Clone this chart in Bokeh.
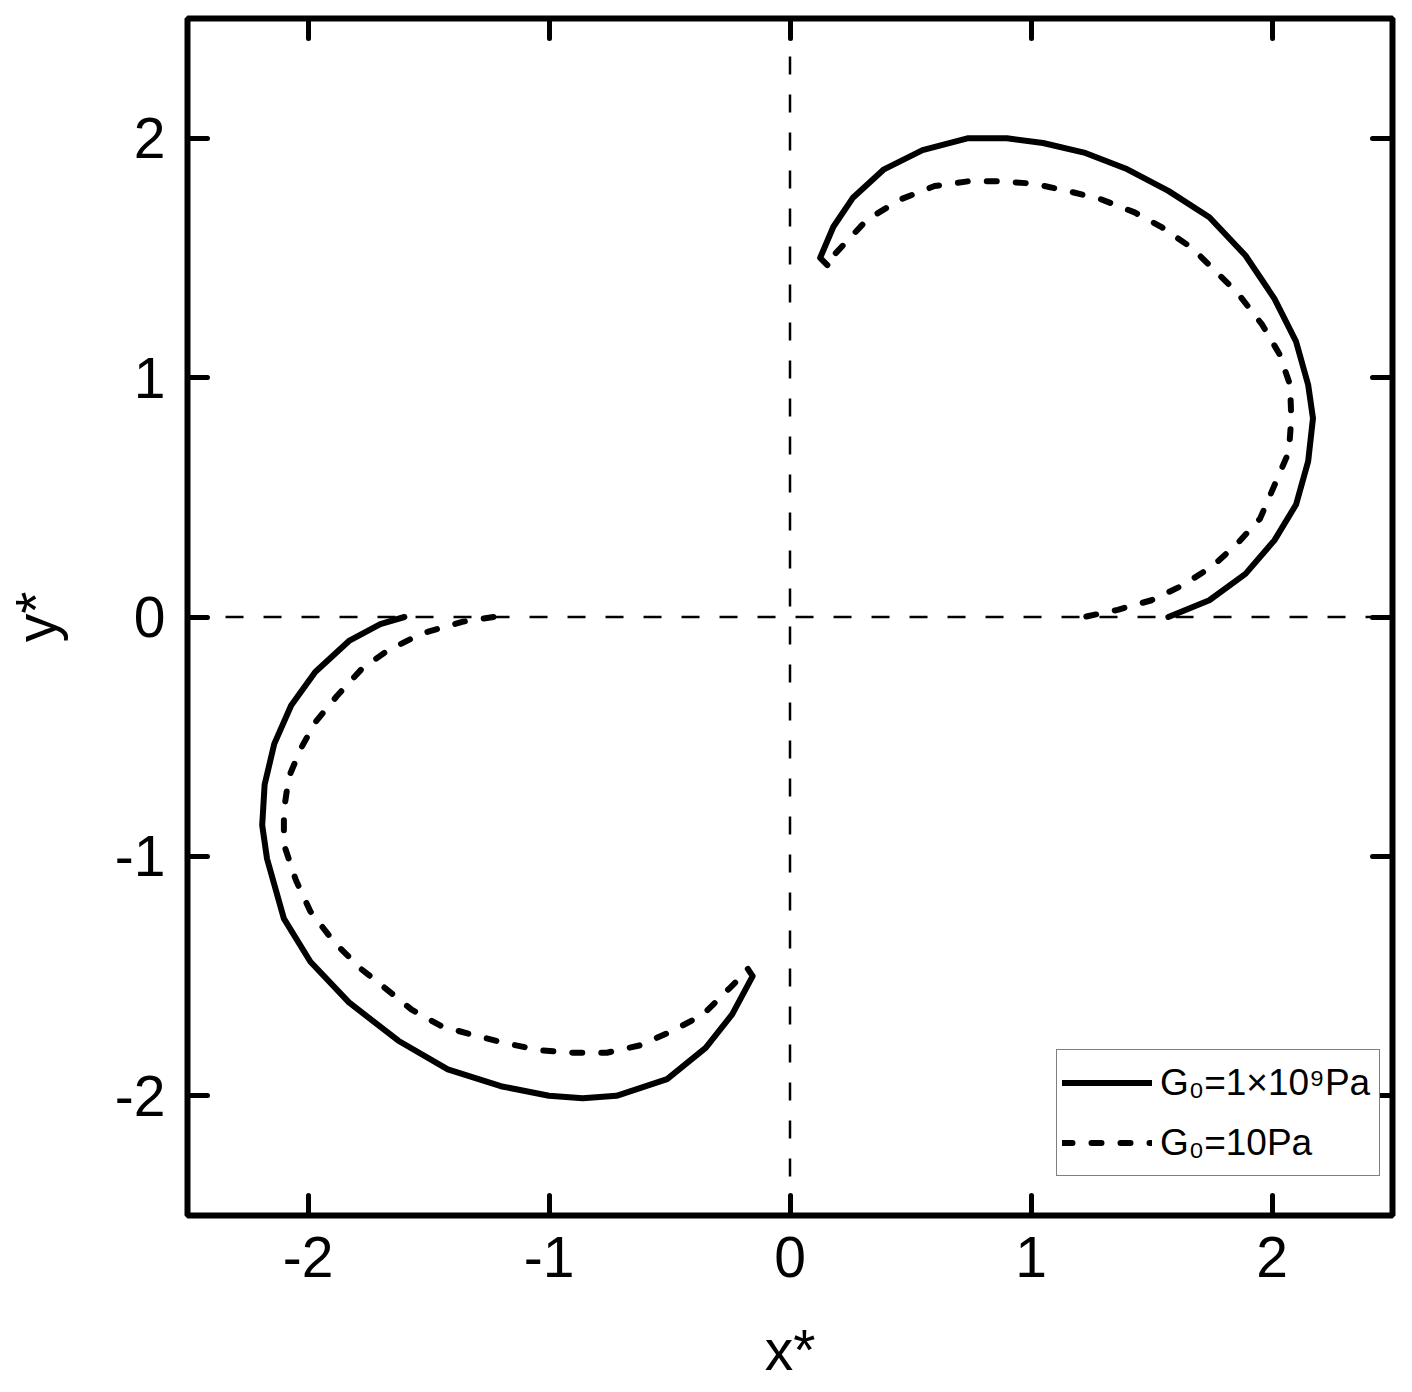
from bokeh.plotting import figure
from bokeh.models import Range1d, LinearAxis, FixedTicker, Legend, LegendItem, Span
from bokeh.embed import file_html
from bokeh.resources import INLINE

# Solid curve: G0 = 1x10^9 Pa (upper branch)
solid_up_x = [0.155, 0.125, 0.18, 0.26, 0.39, 0.55, 0.74, 0.90, 1.05, 1.22, 1.40, 1.57, 1.74, 1.89, 2.01, 2.10, 2.15, 2.17, 2.15, 2.10, 2.01, 1.89, 1.74, 1.57]
solid_up_y = [1.47, 1.50, 1.63, 1.75, 1.87, 1.95, 2.00, 2.00, 1.98, 1.94, 1.87, 1.78, 1.67, 1.51, 1.33, 1.15, 0.97, 0.83, 0.65, 0.47, 0.32, 0.18, 0.07, 0.00]
# Solid curve: lower branch
solid_lo_x = [-1.60, -1.70, -1.83, -1.97, -2.07, -2.14, -2.18, -2.19, -2.17, -2.10, -1.99, -1.83, -1.625, -1.42, -1.20, -1.00, -0.86, -0.72, -0.51, -0.35, -0.24, -0.155, -0.175]
solid_lo_y = [0.00, -0.03, -0.10, -0.23, -0.37, -0.53, -0.70, -0.87, -1.01, -1.26, -1.44, -1.61, -1.77, -1.89, -1.96, -2.00, -2.01, -2.00, -1.93, -1.80, -1.66, -1.50, -1.47]
# Dashed curve: G0 = 10 Pa (upper branch)
dash_up_x = [0.19, 0.32, 0.46, 0.60, 0.74, 0.875, 1.01, 1.15, 1.29, 1.43, 1.54, 1.67, 1.76, 1.86, 1.96, 2.03, 2.075, 2.08, 2.07, 2.01, 1.95, 1.85, 1.75, 1.625, 1.50, 1.36, 1.22]
dash_up_y = [1.52, 1.66, 1.745, 1.80, 1.82, 1.82, 1.81, 1.78, 1.745, 1.69, 1.63, 1.54, 1.45, 1.35, 1.22, 1.10, 0.97, 0.83, 0.69, 0.55, 0.41, 0.30, 0.21, 0.13, 0.07, 0.03, 0.00]
# Dashed curve: lower branch
dash_lo_x = [-1.23, -1.36, -1.53, -1.67, -1.78, -1.88, -1.97, -2.03, -2.08, -2.10, -2.10, -2.05, -1.99, -1.89, -1.78, -1.68, -1.57, -1.445, -1.30, -1.18, -1.04, -0.90, -0.76, -0.625, -0.49, -0.36, -0.25, -0.21]
dash_lo_y = [0.00, -0.02, -0.07, -0.14, -0.22, -0.33, -0.44, -0.55, -0.67, -0.81, -0.95, -1.10, -1.23, -1.36, -1.47, -1.55, -1.64, -1.71, -1.75, -1.78, -1.81, -1.82, -1.82, -1.79, -1.73, -1.66, -1.55, -1.51]

ticks = [-2, -1, 0, 1, 2]
tick_labels = {-2: "-2", -1: "-1", 0: "0", 1: "1", 2: "2"}
labels = ["G\u2080=1\u00d710\u2079Pa", "G\u2080=10Pa"]

FONT = "Liberation Sans"

p = figure(width=1402, height=1384, output_backend="svg", toolbar_location=None,
           x_range=Range1d(-2.5, 2.5), y_range=Range1d(-2.5, 2.5),
           min_border_left=182, min_border_right=10, min_border_top=18, min_border_bottom=166,
           x_axis_label="x*", y_axis_label="y*")
p.grid.visible = False
p.outline_line_color = "black"
p.outline_line_width = 6
p.background_fill_color = "white"

p.add_layout(LinearAxis(), "above")
p.add_layout(LinearAxis(), "right")

for ax in p.axis:
    ax.ticker = FixedTicker(ticks=ticks)
    ax.axis_line_color = None
    ax.major_tick_in = 20
    ax.major_tick_out = 0
    ax.major_tick_line_width = 5
    ax.major_tick_line_cap = "round"
    ax.major_tick_line_color = "black"
    ax.minor_tick_line_color = None
    ax.major_label_text_font = FONT
    ax.major_label_text_font_size = "57px"
    ax.major_label_text_color = "black"
    ax.major_label_overrides = tick_labels
    ax.axis_label_text_font = FONT
    ax.axis_label_text_font_size = "57px"
    ax.axis_label_text_font_style = "normal"
    ax.axis_label_text_color = "black"

for ax in (p.above[0], p.right[0]):
    ax.major_label_overrides = {t: "" for t in ticks}
    ax.major_label_standoff = 0

bottom_axis = p.below[0]
left_axis = p.left[0]
bottom_axis.major_label_standoff = 21
bottom_axis.axis_label_standoff = 38
left_axis.major_label_standoff = 22
left_axis.axis_label_standoff = 44

# reference lines
p.add_layout(Span(location=0, dimension="width", line_color="black", line_width=2.5, line_dash="18 20"))
p.add_layout(Span(location=0, dimension="height", line_color="black", line_width=2.5, line_dash="18 20"))

r1 = p.line(solid_up_x, solid_up_y, line_color="black", line_width=6, line_cap="round", line_join="round")
p.line(solid_lo_x, solid_lo_y, line_color="black", line_width=6, line_cap="round", line_join="round")
r2 = p.line(dash_up_x, dash_up_y, line_color="black", line_width=6, line_dash="10 19", line_cap="round", line_join="round")
p.line(dash_lo_x, dash_lo_y, line_color="black", line_width=6, line_dash="10 19", line_cap="round", line_join="round")

legend = Legend(items=[LegendItem(label=labels[0], renderers=[r1]),
                       LegendItem(label=labels[1], renderers=[r2])],
                location=(869, 39))
legend.border_line_color = "black"
legend.border_line_width = 1.5
legend.background_fill_alpha = 1
legend.label_text_font = FONT
legend.label_text_font_size = "37px"
legend.label_text_color = "black"
legend.glyph_width = 90
legend.glyph_height = 55
legend.label_height = 55
legend.label_width = 214
legend.spacing = 5
legend.padding = 5
legend.margin = 0
legend.label_standoff = 8
p.add_layout(legend)

open("out.html", "w").write(file_html(p, INLINE))
